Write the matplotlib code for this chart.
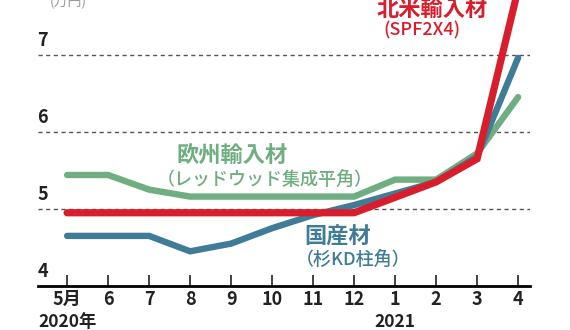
import matplotlib
matplotlib.use("Agg")
import matplotlib.pyplot as plt

plt.rcParams['font.family'] = ['Liberation Sans Narrow', 'Noto Sans CJK JP', 'DejaVu Sans']

months = ['5月', '6', '7', '8', '9', '10', '11', '12', '1', '2', '3', '4']
years = {0: '2020年', 8: '2021'}

europe = [5.44, 5.44, 5.25, 5.16, 5.16, 5.16, 5.16, 5.16, 5.38, 5.38, 5.72, 6.45]
domestic = [4.65, 4.65, 4.65, 4.45, 4.55, 4.75, 4.92, 5.05, 5.2, 5.35, 5.68, 6.96]
northam = [4.95, 4.95, 4.95, 4.95, 4.95, 4.95, 4.95, 4.95, 5.15, 5.35, 5.65, 7.85]
yticks = [4, 5, 6, 7]

red = '#d81e2c'
green = '#6fae80'
blue = '#3f7c97'
jp = ['Noto Sans CJK JP']

fig = plt.figure(figsize=(5.7, 3.3), dpi=100)
ax = fig.add_axes([38/570, 44/330, 492/570, 286/330])
x = list(range(len(months)))

ax.plot(x, europe, color=green, lw=4.6, solid_capstyle='round', solid_joinstyle='miter', zorder=3)
ax.plot(x, domestic, color=blue, lw=4.6, solid_capstyle='round', solid_joinstyle='miter', zorder=4)
ax.plot(x, northam, color=red, lw=5.2, solid_capstyle='round', solid_joinstyle='miter', zorder=5)

ax.set_xlim(-0.71, 11.29)
ax.set_ylim(4, 7.71)

for v in yticks[1:]:
    ax.axhline(v, color='#555555', lw=1.0, ls=(0, (3, 2.5)), zorder=1)
for v in yticks:
    ax.text(-0.72, v + 0.06, str(v), fontsize=13, fontweight='bold', ha='left', va='bottom', color='#222222')

for s in ['top', 'right', 'left']:
    ax.spines[s].set_visible(False)
ax.spines['bottom'].set_linewidth(2)
ax.set_yticks([])
ax.set_xticks(x)
ax.set_xticklabels(months, fontsize=13, fontweight='bold', color='#222222')
ax.tick_params(axis='x', direction='in', length=8, width=1.2, pad=3, colors='#222222')
for i, t in years.items():
    ax.text(i, -0.094, t, transform=ax.get_xaxis_transform(), fontsize=12.5, fontweight='bold',
            ha='center', va='top', color='#222222')

ax.text(8.9, 7.585, '北米輸入材', color=red, fontsize=16, fontweight='bold', ha='center', va='center', family=jp)
ax.text(8.65, 7.31, '(SPF2X4)', color=red, fontsize=13, fontweight='medium', ha='center', va='center', family=jp)
ax.text(4.02, 5.70, '欧州輸入材', color=green, fontsize=16, fontweight='bold', ha='center', va='center', family=jp)
ax.text(4.83, 5.38, '（レッドウッド集成平角）', color=green, fontsize=13, fontweight='medium',
        ha='center', va='center', family=jp)
ax.text(6.59, 4.64, '国産材', color=blue, fontsize=16, fontweight='bold', ha='center', va='center', family=jp)
ax.text(6.98, 4.34, '（杉KD柱角）', color=blue, fontsize=13, fontweight='medium', ha='center', va='center', family=jp)
fig.text(0.12, 0.995, '(万円)', fontsize=10, color='#999999', ha='center', va='center', family=jp)

fig.savefig('out.png', dpi=100)
